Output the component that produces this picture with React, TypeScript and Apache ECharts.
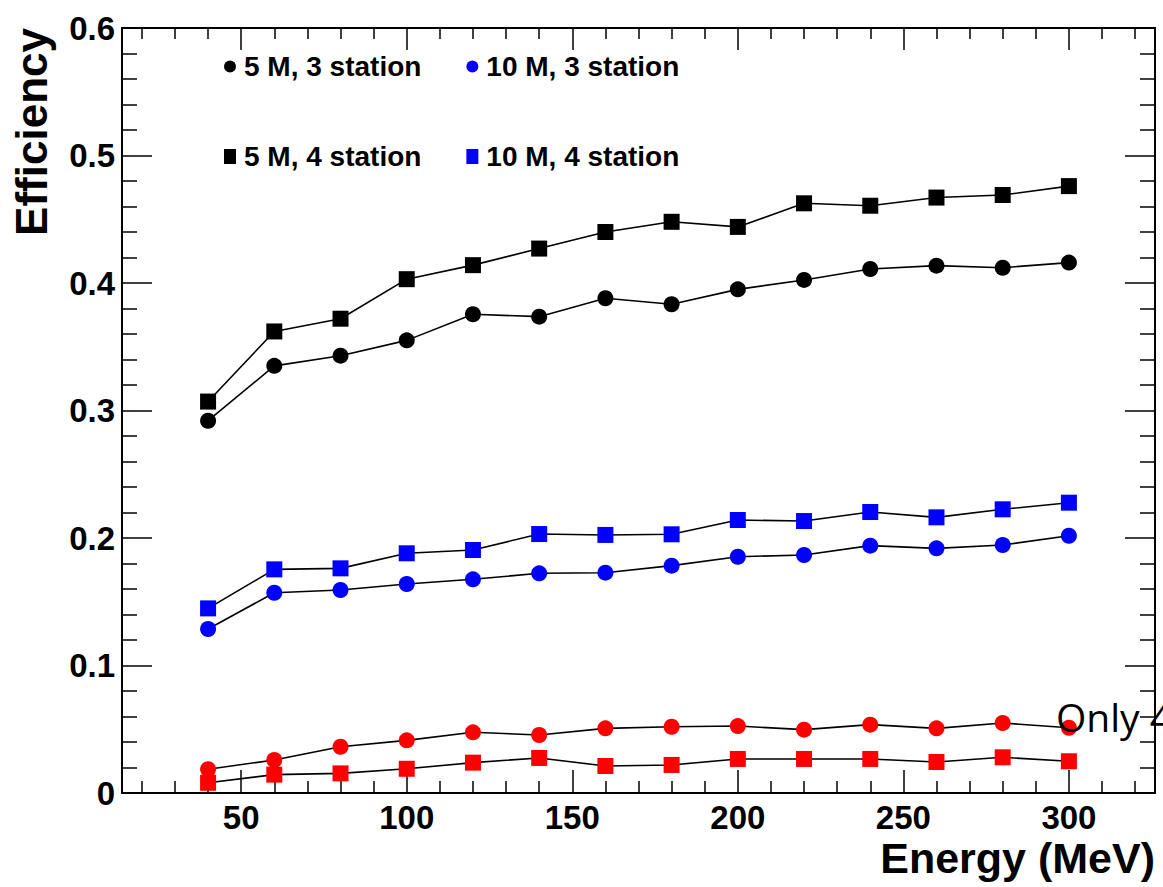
import React, { useEffect, useRef } from "react";
import * as echarts from "echarts";

const energies = [40, 60, 80, 100, 120, 140, 160, 180, 200, 220, 240, 260, 280, 300];
const eff5M3st = [0.292, 0.335, 0.343, 0.355, 0.3755, 0.3736, 0.388, 0.3833, 0.395, 0.4024, 0.411, 0.4136, 0.412, 0.416];
const eff5M4st = [0.307, 0.362, 0.372, 0.403, 0.414, 0.427, 0.44, 0.448, 0.444, 0.4625, 0.4606, 0.467, 0.469, 0.476];
const eff10M3st = [0.1286, 0.1571, 0.1592, 0.1639, 0.1676, 0.1723, 0.1728, 0.1783, 0.1853, 0.1867, 0.194, 0.1919, 0.1945, 0.2018];
const eff10M4st = [0.1448, 0.1754, 0.1762, 0.188, 0.1906, 0.2031, 0.2024, 0.2029, 0.2141, 0.2133, 0.2204, 0.2162, 0.2225, 0.2277];
const effRedCircle = [0.0186, 0.0259, 0.0363, 0.0413, 0.0476, 0.0455, 0.0507, 0.052, 0.0525, 0.0497, 0.0536, 0.0507, 0.0549, 0.0512];
const effRedSquare = [0.008, 0.0144, 0.0154, 0.019, 0.0238, 0.0275, 0.0212, 0.022, 0.0267, 0.0267, 0.0267, 0.0243, 0.028, 0.0249];

const xMajorTicks = [50, 100, 150, 200, 250, 300];
const xMinorTicks = [20, 30, 40, 60, 70, 80, 90, 110, 120, 130, 140, 160, 170, 180, 190, 210, 220, 230, 240, 260, 270, 280, 290, 310, 320];

const legendNames = ["5 M, 3 station", "10 M, 3 station", "5 M, 4 station", "10 M, 4 station"];

const FONT = "'Liberation Sans', Arial, Helvetica, sans-serif";
const ELLIPSE = "path://M50 0A50 50 0 1 1 50 100A50 50 0 1 1 50 0Z";

export default function App() {
  const ref = useRef<HTMLDivElement>(null);
  useEffect(() => {
    if (!ref.current) return;
    const chart = echarts.init(ref.current, null, { renderer: "svg" });
    const toData = (vals: number[]) => energies.map((e, i) => [e, vals[i]]);
    const mkSeries = (name: string, vals: number[], symbol: string, color: string) => ({
      name,
      type: "line",
      data: toData(vals),
      symbol,
      symbolSize: 16,
      itemStyle: { color },
      lineStyle: { color: "#000", width: 1.6 },
      xAxisIndex: 0,
      yAxisIndex: 0,
      z: 3,
    });
    const xBase = (pos: string, ticks: number[], len: number, labels: boolean, extra: any = {}) => ({
      type: "value",
      position: pos,
      min: 14,
      max: 326,
      splitLine: { show: false },
      axisLine: { show: true, onZero: false, lineStyle: { color: "#000", width: 2 } },
      axisTick: {
        show: true,
        inside: true,
        length: len,
        customValues: ticks,
        lineStyle: { color: "#000", width: 1.5 },
      },
      axisLabel: labels
        ? { show: true, customValues: xMajorTicks, margin: 8, fontSize: 33, fontWeight: "bold", fontFamily: FONT, color: "#000" }
        : { show: false },
      ...extra,
    });
    const yBase = (pos: string, labels: boolean, extra: any = {}) => ({
      type: "value",
      position: pos,
      min: 0,
      max: 0.6,
      interval: 0.1,
      splitLine: { show: false },
      axisLine: { show: true, onZero: false, lineStyle: { color: "#000", width: 2 } },
      axisTick: { show: true, inside: true, length: 30, lineStyle: { color: "#000", width: 1.5 } },
      minorTick: { show: true, splitNumber: 5, length: 15, lineStyle: { color: "#000", width: 1.5 } },
      minorSplitLine: { show: false },
      axisLabel: labels
        ? {
            show: true,
            margin: 7,
            fontSize: 33,
            fontWeight: "bold",
            fontFamily: FONT,
            color: "#000",
            formatter: (v: number) => (Math.abs(v) < 1e-9 ? "0" : v.toFixed(1)),
          }
        : { show: false },
      ...extra,
    });
    chart.setOption({
      animation: false,
      backgroundColor: "#fff",
      grid: { left: 122, right: 8, top: 28, bottom: 94, containLabel: false },
      xAxis: [
        xBase("bottom", xMajorTicks, 23, true, {
          name: "Energy (MeV)",
          nameLocation: "end",
          nameGap: 0,
          nameTextStyle: {
            fontSize: 43,
            fontWeight: "bold",
            fontFamily: FONT,
            color: "#000",
            align: "right",
            verticalAlign: "top",
            padding: [43, 0, 0, 0],
          },
        }),
        xBase("bottom", xMinorTicks, 12, false),
        xBase("top", xMajorTicks, 22, false),
        xBase("top", xMinorTicks, 11, false),
      ],
      yAxis: [
        yBase("left", true, {
          name: "Efficiency",
          nameLocation: "end",
          nameGap: 0,
          nameRotate: 90,
          nameTextStyle: {
            fontSize: 44,
            fontWeight: "bold",
            fontFamily: FONT,
            color: "#000",
            align: "right",
            verticalAlign: "bottom",
            padding: [0, 0, 69, 0],
          },
        }),
        yBase("right", false),
      ],
      legend: {
        show: true,
        left: 219,
        top: 39,
        width: 480,
        orient: "horizontal",
        itemGap: 45,
        itemWidth: 12,
        itemHeight: 15,
        selectedMode: false,
        textStyle: {
          fontSize: 28,
          lineHeight: 45,
          fontWeight: "bold",
          fontFamily: FONT,
          color: "#000",
          padding: [0, 0, 0, 3],
        },
        data: [
          { name: legendNames[0], icon: ELLIPSE, itemStyle: { color: "#000" } },
          { name: legendNames[1], icon: ELLIPSE, itemStyle: { color: "#0000ff" } },
          { name: legendNames[2], icon: "rect", itemStyle: { color: "#000" } },
          { name: legendNames[3], icon: "rect", itemStyle: { color: "#0000ff" } },
        ],
      },
      series: [
        mkSeries(legendNames[0], eff5M3st, "circle", "#000"),
        mkSeries(legendNames[1], eff10M3st, "circle", "#0000ff"),
        mkSeries(legendNames[2], eff5M4st, "rect", "#000"),
        mkSeries(legendNames[3], eff10M4st, "rect", "#0000ff"),
        mkSeries("Only 4 station (red circle)", effRedCircle, "circle", "#ff0000"),
        mkSeries("Only 4 station (red square)", effRedSquare, "rect", "#ff0000"),
      ],
      graphic: [
        {
          type: "text",
          left: 1056,
          top: 697,
          z: 100,
          style: {
            text: "Only 4",
            fontSize: 39,
            fontFamily: "'Open Sans', 'Noto Sans', sans-serif",
            fill: "#000",
          },
        },
      ],
    });
    return () => chart.dispose();
  }, []);
  return (
    <div
      ref={ref}
      style={{ position: "absolute", left: 0, top: 0, width: 1163, height: 887, background: "#fff" }}
    />
  );
}
